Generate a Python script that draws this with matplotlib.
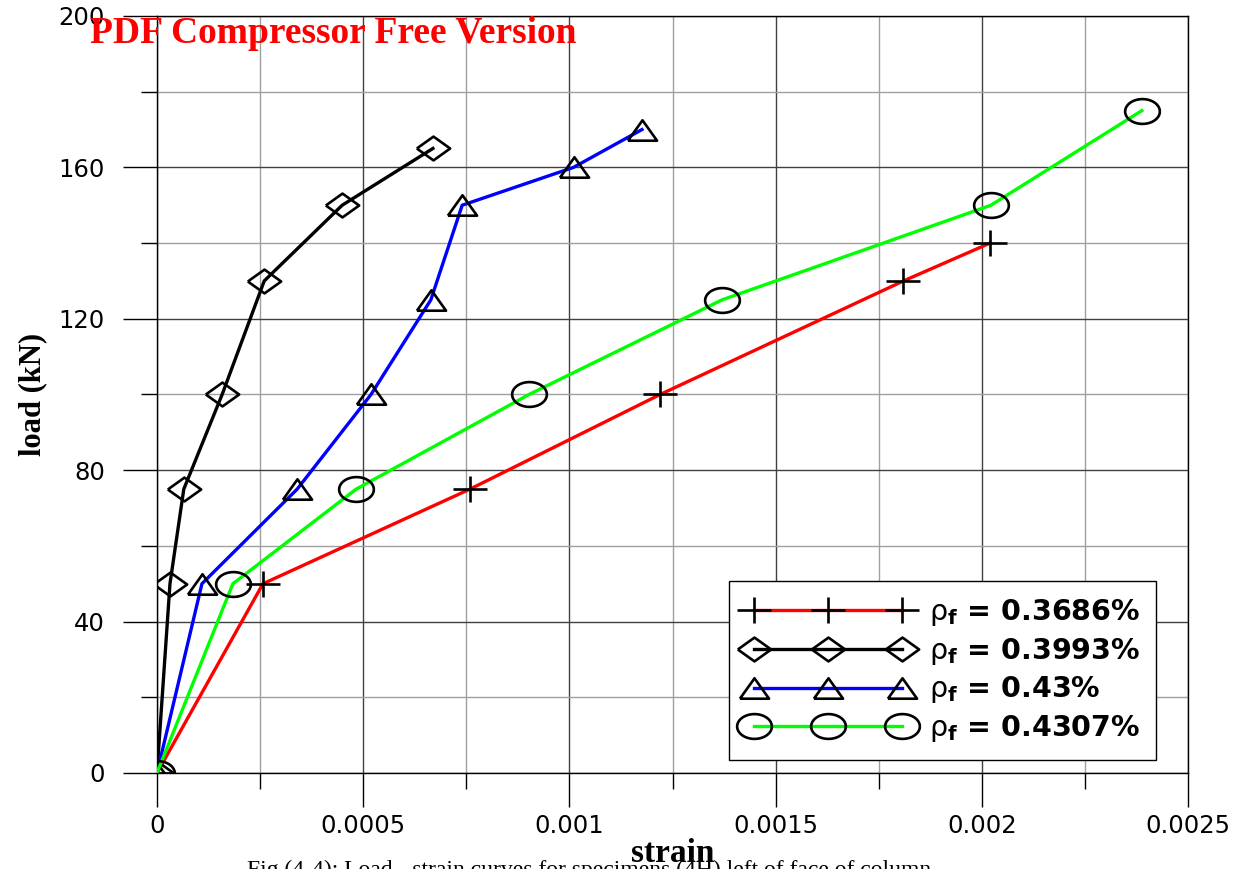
import numpy as np
import matplotlib
matplotlib.use("Agg")
import matplotlib.pyplot as plt
from matplotlib.path import Path
from matplotlib.ticker import MultipleLocator, FixedLocator

plt.rcParams['font.family'] = ['DejaVu Sans']
plt.rcParams['mathtext.fontset'] = 'dejavusans'

# strain / load readings for each reinforcement ratio
strain_3686 = [0, 0.000257, 0.000759, 0.00122, 0.00181, 0.00202]
load_3686 = [0, 50, 75, 100, 130, 140]

strain_3993 = [0, 0.0000315, 0.000065, 0.000158, 0.00026, 0.000449, 0.000669]
load_3993 = [0, 50, 75, 100, 130, 150, 165]

strain_43 = [0, 0.000109, 0.00034, 0.000519, 0.000664, 0.00074, 0.00101, 0.001176]
load_43 = [0, 50, 75, 100, 125, 150, 160, 170]

strain_4307 = [0, 0.000184, 0.000483, 0.000902, 0.00137, 0.002022, 0.002388]
load_4307 = [0, 50, 75, 100, 125, 150, 175]

labels = ['0.3686%', '0.3993%', '0.43%', '0.4307%']
x_ticks = [0, 0.0005, 0.001, 0.0015, 0.002, 0.0025]
x_tick_labels = ['0', '0.0005', '0.001', '0.0015', '0.002', '0.0025']
y_ticks = [0, 40, 80, 120, 160, 200]


# markers a bit wider than tall
def wide(verts, codes=None, sx=1.4):
    v = np.array(verts, dtype=float)
    v[:, 0] *= sx
    return Path(v, codes)


t = np.linspace(0, 2 * np.pi, 60)
ellipse = wide(np.column_stack([np.cos(t), np.sin(t)]))
diamond = wide([(-1, 0), (0, 1), (1, 0), (0, -1), (-1, 0)])
triangle = wide([(-1, -0.7), (0, 0.7), (1, -0.7), (-1, -0.7)], sx=1.0)
plus = wide([(-1, 0), (1, 0), (0, -1), (0, 1)],
            [Path.MOVETO, Path.LINETO, Path.MOVETO, Path.LINETO], sx=1.35)

series = [
    (strain_3686, load_3686, 'red', plus, 25),
    (strain_3993, load_3993, 'black', diamond, 24),
    (strain_43, load_43, 'blue', triangle, 21),
    (strain_4307, load_4307, '#00ff00', ellipse, 25),
]

fig = plt.figure(figsize=(12.4, 8.69), dpi=100)
ax = fig.add_axes([0.1266, 0.1105, 0.8315, 0.8711])

for (xs, ys, col, mk, ms), lab in zip(series, labels):
    ax.plot(xs, ys, color=col, lw=2.4, marker=mk, markersize=ms,
            markerfacecolor='none', markeredgecolor='black', markeredgewidth=1.9,
            label=r'$\mathrm{\rho}_\mathbf{f}$ = ' + lab, zorder=3)

ax.set_xlim(0, 0.0025)
ax.set_ylim(0, 200)
ax.xaxis.set_major_locator(FixedLocator(x_ticks))
ax.set_xticklabels(x_tick_labels)
ax.xaxis.set_minor_locator(MultipleLocator(0.00025))
ax.yaxis.set_major_locator(FixedLocator(y_ticks))
ax.yaxis.set_minor_locator(MultipleLocator(20))

ax.grid(which='major', color='#404040', lw=1.0)
ax.grid(which='minor', color='#a0a0a0', lw=1.0)
ax.set_axisbelow(True)

ax.tick_params(which='both', direction='out', labelsize=17.5, color='black', width=1)
ax.tick_params(which='major', length=24.5)
ax.tick_params(which='minor', length=11.5)
ax.tick_params(axis='x', which='major', pad=5)
ax.tick_params(axis='y', which='major', pad=13)
for s in ax.spines.values():
    s.set_color('black')
    s.set_linewidth(1.0)

ax.set_ylabel('load (kN)', fontsize=22, fontweight='bold', family='Liberation Serif', labelpad=8)
ax.set_xlabel('strain', fontsize=24, fontweight='bold', family='Liberation Serif', labelpad=0)

leg = ax.legend(loc='lower left', bbox_to_anchor=(0.555, 0.017), borderaxespad=0,
                numpoints=3, handlelength=5.8, fancybox=False, edgecolor='black',
                framealpha=1, prop={'family': 'DejaVu Sans', 'weight': 'bold', 'size': 20.5},
                labelspacing=0.27, borderpad=0.56, handletextpad=0.65)
leg.get_frame().set_linewidth(1.0)

fig.text(0.0725, 0.962, 'PDF Compressor Free Version', color='red', fontsize=27,
         fontweight='bold', family='Liberation Serif', va='center', ha='left')

fig.text(0.475, -0.008, 'Fig.(4-4): Load - strain curves for specimens (4H) left of face of column',
         fontsize=17, family='Liberation Serif', ha='center', va='baseline')

fig.savefig('out.png', dpi=100)
